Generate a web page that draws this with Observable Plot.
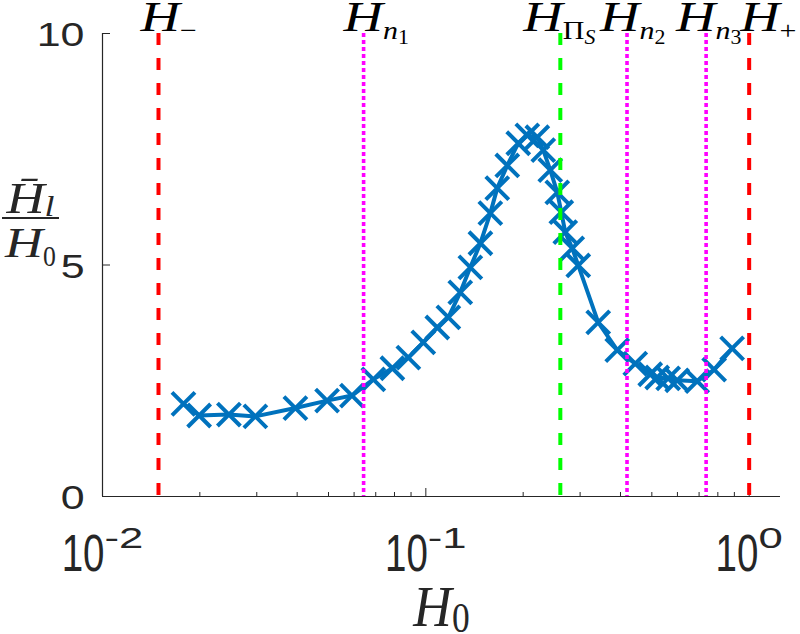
<!DOCTYPE html>
<html><head><meta charset="utf-8">
<script src="https://cdn.jsdelivr.net/npm/d3@7"></script>
<script src="https://cdn.jsdelivr.net/npm/@observablehq/plot@0.6"></script>
<style>
body{margin:0;background:#fff;}
#chart svg{display:block;}
</style></head><body><div id="chart"></div>
<script>
// ---- data ----
const H0 = [0.0178, 0.0199, 0.0246, 0.0297, 0.0395, 0.0495, 0.0591, 0.0688, 0.0788, 0.0883,
            0.0982, 0.1085, 0.1174, 0.1278, 0.1373, 0.1475, 0.1583, 0.1663, 0.1786, 0.1931,
            0.2060, 0.2212, 0.2308, 0.2426, 0.2550, 0.2624, 0.2699, 0.2837, 0.2961, 0.3413,
            0.3908, 0.4443, 0.4943, 0.5194, 0.5617, 0.5990, 0.6908, 0.7793, 0.8858];
const ratio = [2.00, 1.75, 1.77, 1.73, 1.91, 2.07, 2.18, 2.53, 2.77, 3.00,
               3.33, 3.65, 3.87, 4.41, 4.95, 5.47, 6.12, 6.66, 7.15, 7.63,
               7.80, 7.76, 7.48, 7.05, 6.57, 6.14, 5.71, 5.36, 4.99, 3.76,
               3.16, 2.87, 2.64, 2.57, 2.55, 2.51, 2.49, 2.74, 3.20];
const refX = [0.0149, 0.0642, 0.2606, 0.419, 0.736, 1.0];
const refLabel = ["H_{\u2212}", "H_{n_{1}}", "H_{\u03A0_{S}}", "H_{n_{2}}", "H_{n_{3}}", "H_{+}"];
const refKind = ["bound", "node", "peak", "node", "node", "bound"];
const xTickExp = [-2, -1, 0];
const xMinorTicks = [0.02, 0.03, 0.04, 0.05, 0.06, 0.07, 0.08, 0.09, 0.2, 0.3, 0.4, 0.5, 0.6, 0.7, 0.8, 0.9];
const yTicks = [0, 5, 10];
const xLabel = "H_{0}";
const yLabelNum = "H\u0304_{l}";
const yLabelDen = "H_{0}";

// ---- styles ----
const BLUE = "#0072BD", AX = "#262626";
const kindStyle = {
  bound: {stroke: "#FF0000", dash: "12,13", width: 4},
  node: {stroke: "#FF00FF", dash: "4,3", width: 3.6},
  peak: {stroke: "#00FF00", dash: "12,13", width: 4}
};
const labelDx = [-18, -20, -37, -27, -30, -9];
const SANS = "Liberation Sans, Arial, sans-serif";
const SERIF = "Liberation Serif, Times New Roman, serif";
// per text group: script scales, shifts and horizontal stretch per level
const texStyle = {
  "ref-label": {scale: [0.62, 0.8], sub: 0.2, sup: 0.5, stretch: [1.3, 1.15, 1.05]},
  "x-tick": {scale: [0.56, 0.7], sub: 0.2, sup: 0.44, stretch: [0.74, 1.5]},
  "x-label": {scale: [0.72, 0.7], sub: 0.12, sup: 0.5, stretch: [0.92, 0.85]},
  "y-num": {scale: [0.68, 0.7], sub: 0.06, sup: 0.5, stretch: [1.2, 1.2]},
  "y-den": {scale: [0.72, 0.7], sub: 0.22, sup: 0.5, stretch: [1.25, 0.85]},
  "y-tick": {scale: [0.7, 0.7], sub: 0.2, sup: 0.5, stretch: [1.3]}
};

const data = H0.map((h, i) => ({h, r: ratio[i]}));
const refs = refX.map((x, i) => ({x, label: refLabel[i], kind: refKind[i]}));

const plot = Plot.plot({
  width: 800, height: 634,
  marginLeft: 102, marginRight: 20, marginTop: 33, marginBottom: 138,
  x: {type: "log", domain: [0.01, 1.25]},
  y: {domain: [0, 10]},
  style: {background: "#fff", overflow: "visible"},
  marks: [
    Plot.axisX({ticks: xMinorTicks, tickSize: -4, tickFormat: () => "", label: null, stroke: AX}),
    Plot.axisX({ticks: xTickExp.map(e => 10 ** e), tickSize: -8, tickFormat: () => "", label: null, stroke: AX}),
    Plot.axisY({ticks: yTicks, tickSize: -8, tickFormat: () => "", label: null, stroke: AX}),
    Plot.ruleY([0], {stroke: AX, strokeWidth: 1.2}),
    Plot.ruleX([0.01], {stroke: AX, strokeWidth: 1.2}),
    Plot.line(data, {x: "h", y: "r", stroke: BLUE, strokeWidth: 4}),
    Plot.dot(data, {x: "h", y: "r", symbol: "times", r: 10.5, stroke: BLUE, strokeWidth: 4}),
    ...Object.keys(kindStyle).map(k => Plot.ruleX(refs.filter(d => d.kind === k), {x: "x",
      stroke: kindStyle[k].stroke, strokeWidth: kindStyle[k].width, strokeDasharray: kindStyle[k].dash})),
    ...refs.map((d, i) => Plot.text([d], {x: "x", text: "label", frameAnchor: "top", dy: -3,
      lineAnchor: "bottom", textAnchor: "start", dx: labelDx[i], fontSize: 42, fontFamily: SERIF,
      fill: "#000", ariaDescription: "ref-label"})),
    Plot.text(yTicks, {y: d => d, text: d => String(d), frameAnchor: "left", dx: -18, dy: 2,
      textAnchor: "end", lineAnchor: "middle", fontSize: 33, fontFamily: SANS, fill: AX, ariaDescription: "y-tick"}),
    Plot.text(xTickExp, {x: e => 10 ** e, text: e => `10^{${e}}`, frameAnchor: "bottom", dy: 74,
      lineAnchor: "bottom", textAnchor: "middle", fontSize: 52, fontFamily: SANS, fill: AX, ariaDescription: "x-tick"}),
    Plot.text([xLabel], {text: d => d, frameAnchor: "bottom", dy: 129, lineAnchor: "bottom",
      textAnchor: "middle", fontSize: 58, fontFamily: SERIF, fill: AX, ariaDescription: "x-label"}),
    Plot.text([yLabelNum], {text: d => d, frameAnchor: "left", dx: -72, dy: -52, lineAnchor: "bottom",
      textAnchor: "middle", fontSize: 44, fontFamily: SERIF, fill: AX, ariaDescription: "y-num"}),
    Plot.text([yLabelDen], {text: d => d, frameAnchor: "left", dx: -72, dy: -8, lineAnchor: "bottom",
      textAnchor: "middle", fontSize: 42, fontFamily: SERIF, fill: AX, ariaDescription: "y-den"})
  ]
});

document.getElementById("chart").append(plot);

// ---- render TeX-like sub/superscripts as tspans ----
const NS = "http://www.w3.org/2000/svg";
function texSegments(s, size, shift, level, st, out) {
  let i = 0;
  while (i < s.length) {
    const c = s[i];
    if (c === "_" || c === "^") {
      i++;
      let grp;
      if (s[i] === "{") {
        let depth = 1, j = i + 1;
        while (j < s.length && depth) { if (s[j] === "{") depth++; else if (s[j] === "}") depth--; j++; }
        grp = s.slice(i + 1, j - 1); i = j;
      } else { grp = s[i]; i++; }
      const ns = size * (st.scale[level] || 0.7);
      texSegments(grp, ns, c === "_" ? shift + size * st.sub : shift - size * st.sup, level + 1, st, out);
    } else if (/[\u0300-\u036f]/.test(c) && out.length) {
      out[out.length - 1].t += c; i++;
    } else {
      const last = out[out.length - 1];
      const it = /[A-Za-z]/.test(c);
      if (last && last.size === size && last.shift === shift && last.it === it) last.t += c;
      else out.push({t: c, size, shift, level, it});
      i++;
    }
  }
  return out;
}
plot.querySelectorAll("text").forEach(el => {
  const g = el.closest("[aria-description]");
  const st = g ? texStyle[g.getAttribute("aria-description")] : null;
  if (!st) return;
  const s = el.textContent;
  const cs = getComputedStyle(el);
  const base = parseFloat(cs.fontSize);
  const math = /Serif/.test(cs.fontFamily);
  const segs = texSegments(s, base, 0, 0, st, []);
  el.textContent = "";
  let prev = 0;
  const spans = segs.map(seg => {
    const ts = document.createElementNS(NS, "tspan");
    ts.textContent = seg.t;
    ts.setAttribute("font-size", seg.size);
    if (seg.shift - prev) ts.setAttribute("dy", seg.shift - prev);
    prev = seg.shift;
    ts.setAttribute("font-style", math && seg.it ? "italic" : "normal");
    el.appendChild(ts);
    const k = st.stretch[seg.level];
    return [ts, k === undefined ? 1 : k];
  });
  spans.forEach(([ts, k]) => {
    if (k === 1) return;
    const w = ts.getComputedTextLength();
    ts.setAttribute("textLength", w * k);
    ts.setAttribute("lengthAdjust", "spacingAndGlyphs");
  });
});

// fraction bar of the y label
const bar = document.createElementNS(NS, "line");
bar.setAttribute("x1", 2); bar.setAttribute("x2", 59);
bar.setAttribute("y1", 218); bar.setAttribute("y2", 218);
bar.setAttribute("stroke", AX); bar.setAttribute("stroke-width", 2);
plot.appendChild(bar);
</script></body></html>
